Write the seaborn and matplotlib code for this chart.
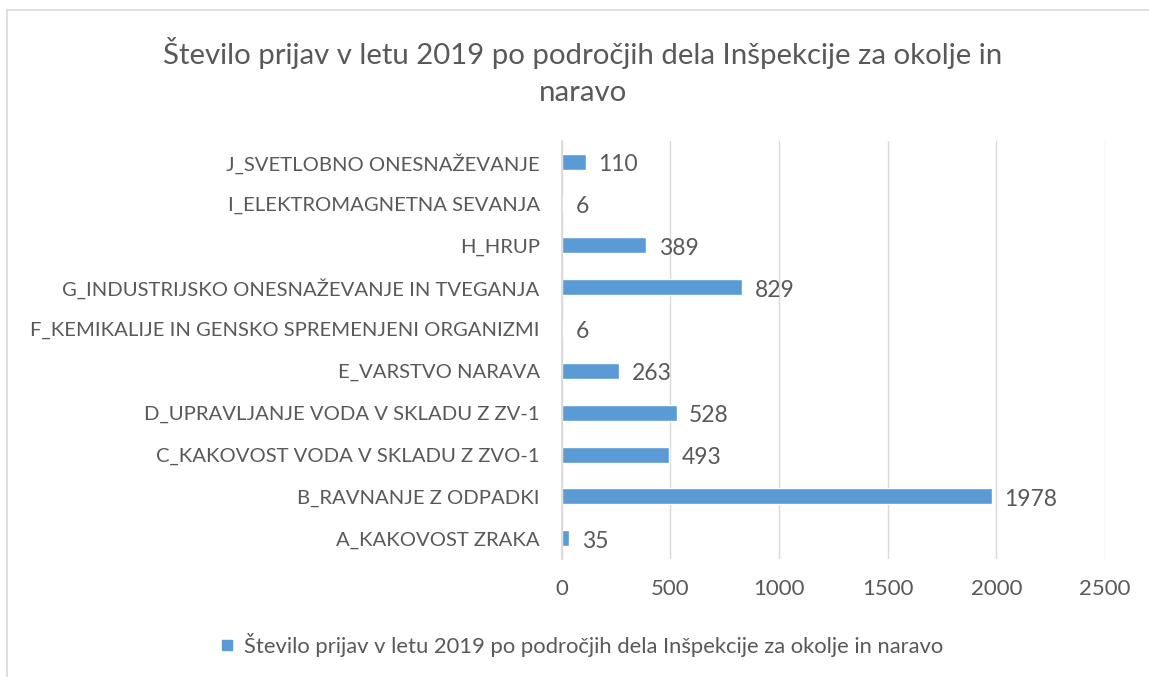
import numpy as np
import pandas as pd
import seaborn as sns
import matplotlib.pyplot as plt
from matplotlib.patches import Rectangle

sns.set_theme(style="white")
plt.rcParams['font.family'] = ['Lato', 'DejaVu Sans']

categories = [
    'J_SVETLOBNO ONESNAŽEVANJE',
    'I_ELEKTROMAGNETNA SEVANJA',
    'H_HRUP',
    'G_INDUSTRIJSKO ONESNAŽEVANJE IN TVEGANJA',
    'F_KEMIKALIJE IN GENSKO SPREMENJENI ORGANIZMI',
    'E_VARSTVO NARAVA',
    'D_UPRAVLJANJE VODA V SKLADU Z ZV-1',
    'C_KAKOVOST VODA V SKLADU Z ZVO-1',
    'B_RAVNANJE Z ODPADKI',
    'A_KAKOVOST ZRAKA',
]
values = [110, 6, 389, 829, 6, 263, 528, 493, 1978, 35]
series_name = 'Število prijav v letu 2019 po področjih dela Inšpekcije za okolje in naravo'
x_ticks = [0, 500, 1000, 1500, 2000, 2500]

df = pd.DataFrame({'kategorija': categories, 'prijave': values})

txt = '#595959'
bar_color = '#5B9BD5'

fig = plt.figure(figsize=(11.49, 6.77), dpi=100)
ax = fig.add_axes([0.489, 0.174, 0.4727, 0.618])

sns.barplot(data=df, y='kategorija', x='prijave', orient='h', color=bar_color,
            width=0.38, saturation=1, ax=ax)

ax.set_xlim(0, 2500)
ax.set_xticks(x_ticks)
ax.set_xticklabels([str(t) for t in x_ticks], color=txt, fontsize=16)
ax.tick_params(axis='y', labelsize=14.6, labelcolor=txt, length=0, pad=16)
ax.tick_params(axis='x', length=0, pad=14)
ax.xaxis.grid(True, color='#D9D9D9', linewidth=1)
ax.set_axisbelow(True)
for s in ['top', 'right', 'bottom']:
    ax.spines[s].set_visible(False)
ax.spines['left'].set_color('#D9D9D9')
ax.set_xlabel('')
ax.set_ylabel('')

for i, v in enumerate(values):
    ax.annotate(str(v), (v, i), xytext=(9, -2), textcoords='offset points',
                va='center', ha='left', fontsize=16.5, color=txt)

fig.text(0.507, 0.922, 'Število prijav v letu 2019 po področjih dela Inšpekcije za okolje in',
         ha='center', va='center', fontsize=21.2, color=txt)
fig.text(0.507, 0.862, 'naravo', ha='center', va='center', fontsize=21.2, color=txt)

# legend
fig.patches.append(Rectangle((0.1932, 0.040), 0.0087, 0.0148, transform=fig.transFigure,
                             color=bar_color, figure=fig))
fig.text(0.2125, 0.0475, series_name, ha='left', va='center', fontsize=15.8, color=txt)

# outer frame
fig.patches.append(Rectangle((0.0065, -0.05), 1.05, 1.035, transform=fig.transFigure,
                             fill=False, edgecolor='#D9D9D9', linewidth=1.2, figure=fig))

fig.savefig('out.png', dpi=100, facecolor='white')
